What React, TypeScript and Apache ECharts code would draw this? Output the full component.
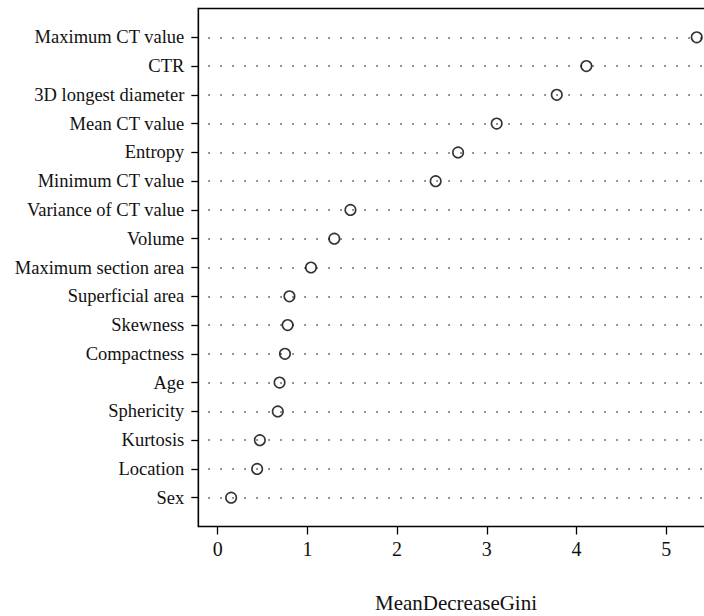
import React, { useEffect, useRef } from "react";
import * as echarts from "echarts";

const categories = [
  "Maximum CT value",
  "CTR",
  "3D longest diameter",
  "Mean CT value",
  "Entropy",
  "Minimum CT value",
  "Variance of CT value",
  "Volume",
  "Maximum section area",
  "Superficial area",
  "Skewness",
  "Compactness",
  "Age",
  "Sphericity",
  "Kurtosis",
  "Location",
  "Sex",
];
const values = [5.34, 4.11, 3.78, 3.11, 2.68, 2.43, 1.48, 1.3, 1.04, 0.8, 0.78, 0.75, 0.69, 0.67, 0.47, 0.44, 0.15];
const xTickValues = [0, 1, 2, 3, 4, 5];
const xTitle = "MeanDecreaseGini";

const FONT = "'Liberation Serif', 'DejaVu Serif', serif";

export default function App() {
  const ref = useRef<HTMLDivElement>(null);
  useEffect(() => {
    if (!ref.current) return;
    const chart = echarts.init(ref.current, null, { renderer: "svg" });
    const yData = ["", ...categories, ""];
    const visible = (_i: number, v: string) => v !== "";
    chart.setOption({
      animation: false,
      backgroundColor: "#fff",
      grid: [
        {
          left: 198.3,
          width: 513.4,
          top: 8.5,
          height: 518,
          containLabel: false,
          outerBoundsMode: "none",
          show: true,
          borderColor: "#000",
          borderWidth: 1.3,
          backgroundColor: "transparent",
        },
        {
          left: 217.7,
          width: 494,
          top: 8.5,
          height: 518,
          containLabel: false,
          outerBoundsMode: "none",
          show: false,
        },
      ],
      xAxis: [
        { gridIndex: 0, type: "value", min: -0.216, max: 5.507, show: false },
        {
          gridIndex: 1,
          type: "value",
          min: 0,
          max: 5.507,
          interval: 1,
          axisLine: { show: false },
          axisTick: { show: true, length: 8, lineStyle: { color: "#000", width: 1.3 } },
          axisLabel: {
            show: true,
            margin: 12,
            fontFamily: FONT,
            fontSize: 20,
            color: "#111",
            formatter: (v: number) => (xTickValues.includes(v) ? String(v) : ""),
          },
          splitLine: { show: false },
        },
      ],
      yAxis: [
        {
          gridIndex: 0,
          type: "category",
          data: yData,
          inverse: true,
          boundaryGap: false,
          axisLine: { show: true, onZero: false, lineStyle: { color: "#000", width: 1.3 } },
          axisTick: {
            show: true,
            length: 7,
            interval: visible,
            lineStyle: { color: "#000", width: 1.3 },
          },
          axisLabel: {
            show: true,
            interval: visible,
            margin: 14,
            fontFamily: FONT,
            fontSize: 18.5,
            color: "#111",
          },
          splitLine: {
            show: true,
            interval: visible,
            lineStyle: { color: "#444", width: 1.5, type: [1.5, 10.5], dashOffset: 1.5 },
          },
        },
        { gridIndex: 1, type: "value", show: false, axisLine: { show: false } },
      ],
      graphic: [
        {
          type: "text",
          x: 456,
          y: 603,
          style: {
            text: xTitle,
            align: "center",
            verticalAlign: "middle",
            fontFamily: FONT,
            fontSize: 21,
            fill: "#111",
          },
        },
      ],
      series: [
        {
          type: "scatter",
          xAxisIndex: 0,
          yAxisIndex: 0,
          symbol: "circle",
          symbolSize: 10.5,
          itemStyle: { color: "transparent", borderColor: "#000", borderWidth: 1.6 },
          data: values.map((v, i) => [v, categories[i]]),
          z: 5,
        },
      ],
    });
    return () => chart.dispose();
  }, []);
  return (
    <div
      ref={ref}
      style={{ position: "fixed", left: 0, top: 0, width: 704, height: 616 }}
    />
  );
}
